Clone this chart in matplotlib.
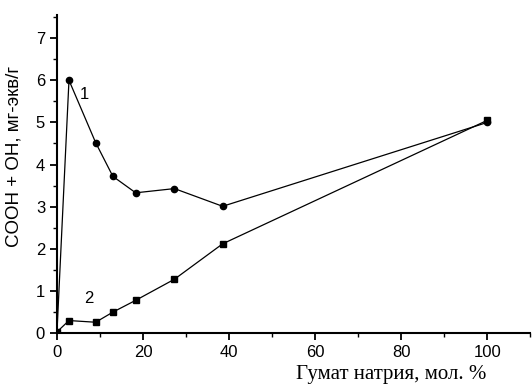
import matplotlib
matplotlib.use("Agg")
import matplotlib.pyplot as plt
from matplotlib.ticker import MultipleLocator

x1 = [0, 2.8, 9, 13, 18.3, 27.3, 38.5, 100]
y1 = [0, 6.0, 4.52, 3.72, 3.33, 3.43, 3.01, 5.0]
x2 = [0, 2.8, 9, 13, 18.3, 27.3, 38.5, 100]
y2 = [0.03, 0.3, 0.26, 0.5, 0.78, 1.28, 2.12, 5.05]
xticks = [0, 20, 40, 60, 80, 100]
yticks = [0, 1, 2, 3, 4, 5, 6, 7]

fig = plt.figure(figsize=(5.32, 3.92), dpi=100)
ax = fig.add_axes([0.107, 0.15, 0.89, 0.812])
ax.plot(x1, y1, color='black', lw=0.9, marker='o', ms=4.5, mfc='black', mec='black')
ax.plot(x2, y2, color='black', lw=0.9, marker='s', ms=4.5, mfc='black', mec='black')
ax.text(5.2, 5.55, '1', fontsize=12, family='Liberation Sans')
ax.text(6.3, 0.72, '2', fontsize=12, family='Liberation Sans')

ax.set_xlim(0, 110)
ax.set_ylim(0, 7.55)
ax.set_xticks(xticks)
ax.set_yticks(yticks)
ax.xaxis.set_minor_locator(MultipleLocator(10))
ax.yaxis.set_minor_locator(MultipleLocator(0.5))
for s in ['top', 'right']:
    ax.spines[s].set_visible(False)
for s in ['left', 'bottom']:
    ax.spines[s].set_linewidth(1.5)
ax.tick_params(which='major', direction='out', length=5, width=1.3, labelsize=12)
ax.tick_params(which='minor', direction='out', length=3, width=1.0)
for lab in ax.get_xticklabels() + ax.get_yticklabels():
    lab.set_family('Liberation Sans')
ax.set_ylabel('COOH + OH, мг-экв/г', fontsize=13.5, family='Liberation Sans')
ax.yaxis.set_label_coords(-0.072, 0.555)
ax.set_xlabel('Гумат натрия, мол. %', fontsize=15, family='Liberation Serif')
ax.xaxis.set_label_coords(0.705, -0.1)
fig.savefig('out.png', dpi=100)
